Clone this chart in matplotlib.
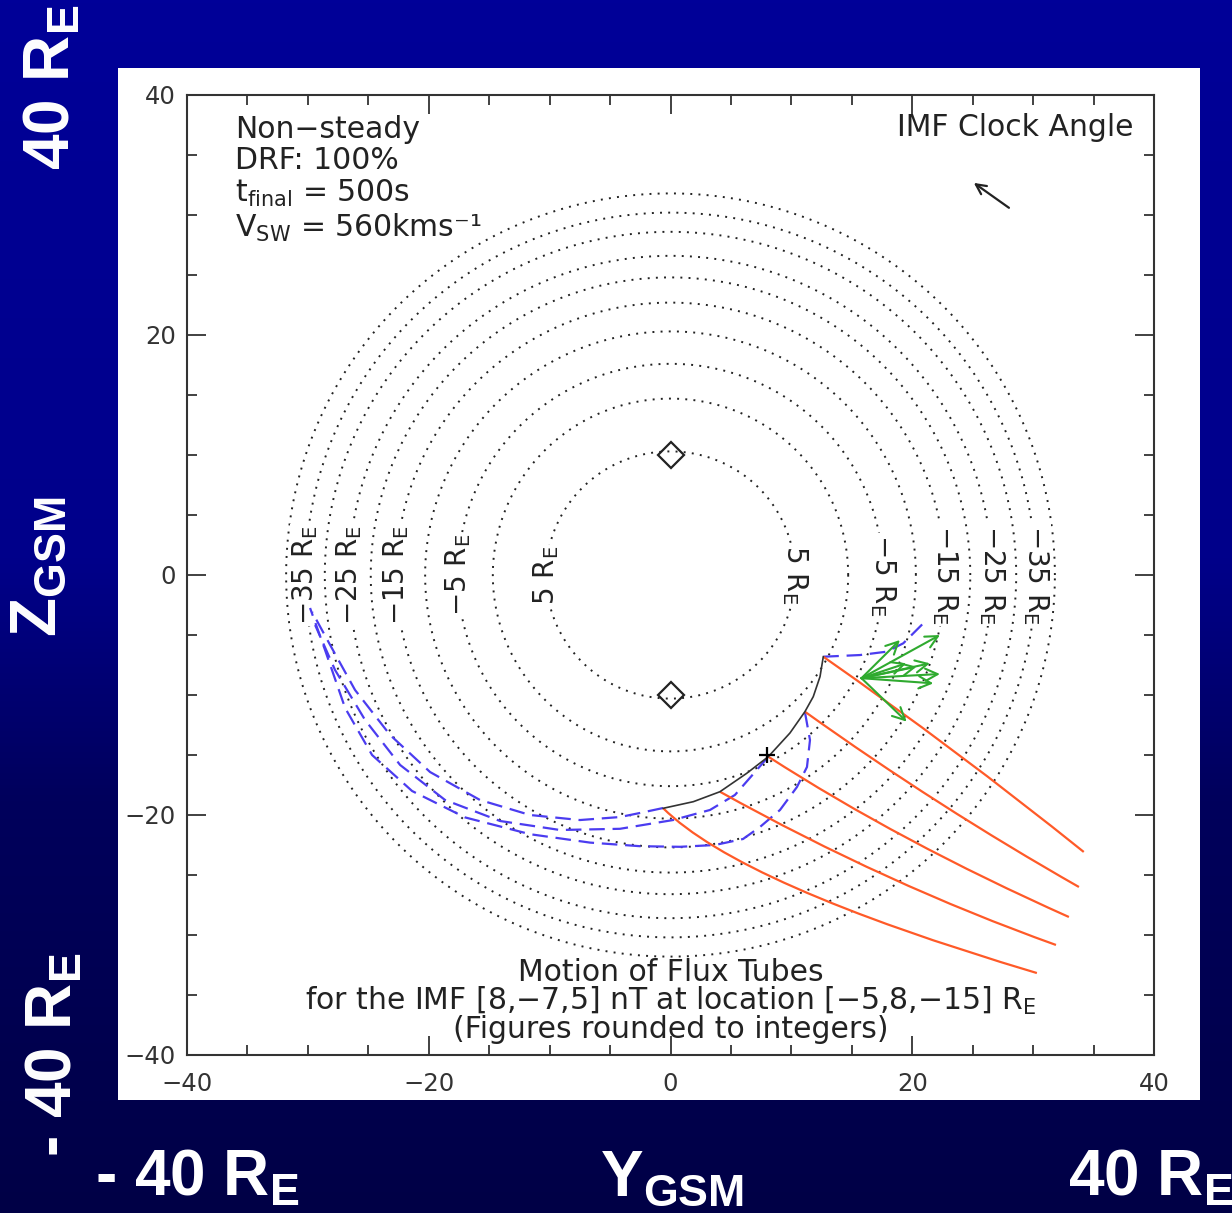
import matplotlib
matplotlib.use("Agg")
import matplotlib.pyplot as plt
import numpy as np
from matplotlib.patches import Rectangle, PathPatch
from matplotlib.path import Path
from matplotlib.ticker import MultipleLocator

# run parameters
imf = [8, -7, 5]            # nT (Bx, By, Bz)
location = [-5, 8, -15]     # R_E (X, Y, Z)
drf = 100
t_final = 500
v_sw = 560

# magnetopause cross sections: X position and radius in the Y-Z plane (R_E)
section_x = [5, 0, -5, -10, -15, -20, -25, -30, -35, -40]
section_r = [10.3, 14.7, 17.6, 20.3, 22.7, 24.8, 26.6, 28.6, 30.2, 31.8]
labelled_x = [5, -5, -15, -25, -35]

# cusp markers
cusp_z = [10, -10]

# reconnection line
xline_y = [12.64, 12.37, 11.81, 11.12, 9.88, 8.09, 6.30, 4.09, 1.89, -0.60]
xline_z = [-6.81, -8.47, -10.14, -11.39, -13.17, -15.14, -16.53, -18.06, -18.89, -19.44]

# flux tubes at t_final (orange): start, bend, end
tube1 = [(12.64, -6.81), (23.6, -14.5), (34.19, -23.08)]
tube2 = [(11.12, -11.39), (22.1, -19.3), (33.79, -26.00)]
tube3 = [(8.09, -15.14), (18.95, -22.2), (32.96, -28.50)]
tube4 = [(4.09, -18.06), (17.9, -25.79), (31.89, -30.83)]
tube5 = [(-0.60, -19.44), (5.77, -25.81), (30.31, -33.17)]

# flux tube footprint paths (blue dashed)
path1_y = [12.64, 15.67, 17.88, 19.26, 20.91]
path1_z = [-6.81, -6.67, -6.39, -5.69, -4.03]
path2_y = [11.12, 11.54, 11.29, 10.46, 9.06, 7.40, 6.00, 3.68, 0.79, -2.52, -6.66,
           -11.62, -17.00, -21.38, -24.69, -26.92, -28.58, -29.82]
path2_z = [-11.42, -13.75, -16.00, -17.67, -19.58, -21.00, -22.00, -22.50, -22.65, -22.60, -22.30,
           -21.60, -20.20, -18.00, -15.00, -11.08, -6.25, -2.75]
path3_y = [8.06, 6.99, 5.33, 3.27, 0.21, -4.18, -9.14, -14.10, -18.65, -22.37, -25.27, -27.75, -29.40]
path3_z = [-15.17, -16.42, -18.33, -19.58, -20.42, -21.15, -21.25, -20.50, -18.75, -15.83, -12.08, -7.92, -4.17]
path4_y = [-0.62, -2.52, -4.18, -7.49, -11.62, -15.76, -19.89, -23.20, -26.10, -28.16, -29.65]
path4_z = [-19.42, -19.83, -20.17, -20.42, -20.00, -18.75, -16.42, -13.33, -9.58, -5.83, -3.08]

# flow vectors (green)
flow_origin = [15.8, -8.6]
flow_tip_y = [18.98, 22.29, 22.29, 21.46, 20.36, 21.74, 19.50, 19.54]
flow_tip_z = [-5.42, -5.00, -8.25, -7.36, -7.64, -9.03, -7.36, -12.22]

# IMF clock angle arrow
clock_tail = [28.0, 30.6]
clock_scale = 0.415

W, H = 1232, 1213
fig = plt.figure(figsize=(W / 100, H / 100), dpi=100)

# slide background
bg = fig.add_axes([0, 0, 1, 1], zorder=-10)
rows = np.linspace(0, 1, 400)
blue = np.interp(rows, [0, 0.46, 0.66, 1.0], [152, 138, 92, 70]) / 255
grad = np.zeros((400, 2, 3))
grad[:, :, 2] = blue[:, None]
bg.imshow(grad, aspect="auto", extent=[0, 1, 0, 1], origin="upper")
bg.set_axis_off()

fig.add_artist(Rectangle((118 / W, 1 - 1100 / H), (1200 - 118) / W, (1100 - 68) / H,
                         transform=fig.transFigure, facecolor="white", edgecolor="none", zorder=-5))

ax = fig.add_axes([187 / W, 1 - 1055 / H, (1154 - 187) / W, (1055 - 95) / H])
ax.set_xlim(-40, 40)
ax.set_ylim(-40, 40)
ax.xaxis.set_major_locator(MultipleLocator(20))
ax.yaxis.set_major_locator(MultipleLocator(20))
ax.xaxis.set_minor_locator(MultipleLocator(5))
ax.yaxis.set_minor_locator(MultipleLocator(5))
ax.tick_params(which="both", direction="in", top=True, right=True, color="#333333",
               labelcolor="#333333", labelsize=17.5)
ax.tick_params(which="major", length=14, width=1.3)
ax.tick_params(which="minor", length=7.5, width=1.3)
ax.tick_params(axis="x", pad=12)
ax.tick_params(axis="y", pad=8)
for s in ax.spines.values():
    s.set_linewidth(1.5)
    s.set_color("#333333")

txt = dict(fontsize=21.5, color="#222222")

# magnetopause sections
theta = np.linspace(0, 2 * np.pi, 900)
for r in section_r:
    ax.plot(r * np.cos(theta), r * np.sin(theta), ls=(0, (1, 3.2)), lw=1.4, color="#222222", zorder=1)
for x in labelled_x:
    r = section_r[section_x.index(x)]
    lab = f"{x} R$_\\mathregular{{E}}$".replace("-", "\u2212")
    box = dict(facecolor="white", edgecolor="none", pad=0.5)
    ax.text(-r, 0, lab, rotation=90, ha="center", va="center", bbox=box, zorder=2, fontsize=20, color="#222222")
    ax.text(r, 0, lab, rotation=-90, ha="center", va="center", bbox=box, zorder=2, fontsize=20, color="#222222")

ax.plot([0] * len(cusp_z), cusp_z, ls="none", marker="D", ms=13, mfc="none", mec="#222222", mew=1.6, zorder=3)

# footprint paths
for py, pz in [(path1_y, path1_z), (path2_y, path2_z), (path3_y, path3_z), (path4_y, path4_z)]:
    ax.plot(py, pz, color="#4b3cf0", lw=1.6, ls=(0, (7, 3.5)), zorder=4)

# flux tubes
for tube in [tube1, tube2, tube3, tube4, tube5]:
    curve = Path(tube, [Path.MOVETO, Path.CURVE3, Path.CURVE3])
    ax.add_patch(PathPatch(curve, facecolor="none", edgecolor="#ff5a28", lw=1.6, zorder=5))

ax.plot(xline_y, xline_z, color="#333333", lw=1.2, zorder=6)
ax.plot(location[1], location[2], marker="+", ms=12, mew=1.6, color="black", zorder=7)

for fy, fz in zip(flow_tip_y, flow_tip_z):
    ax.annotate("", xy=(fy, fz), xytext=flow_origin,
                arrowprops=dict(arrowstyle="->", color="#2faa2f", lw=1.5, mutation_scale=22,
                                shrinkA=0, shrinkB=0), zorder=8)

clock_head = [clock_tail[0] + clock_scale * imf[1], clock_tail[1] + clock_scale * imf[2]]
ax.annotate("", xy=clock_head, xytext=clock_tail,
            arrowprops=dict(arrowstyle="->", color="#222222", lw=1.6, mutation_scale=18,
                            shrinkA=0, shrinkB=0))

# run summary, top left (anchored on the last line's baseline)
summary = "\n".join([
    "Non\u2212steady",
    f"DRF: {drf}%",
    f"t$_\\mathregular{{final}}$ = {t_final}s",
    f"V$_\\mathregular{{SW}}$ = {v_sw}kms\u207b\u00b9",
])
ax.text(-36, 28.17, summary, va="baseline", linespacing=1.11, **txt)
ax.text(38.3, 36.6, "IMF Clock Angle", ha="right", **txt)

imf_s = ",".join(str(v) for v in imf).replace("-", "\u2212")
loc_s = ",".join(str(v) for v in location).replace("-", "\u2212")
caption = "\n".join([
    "Motion of Flux Tubes",
    f"for the IMF [{imf_s}] nT at location [{loc_s}] R$_\\mathregular{{E}}$",
    "(Figures rounded to integers)",
])
ax.text(0, -38.58, caption, ha="center", va="baseline", multialignment="center", linespacing=0.92, **txt)

# slide labels
big = dict(color="white", fontsize=46, fontweight="bold", family="Liberation Sans",
           rotation_mode="anchor", ha="left", va="baseline")
fig.text(95 / W, 1 - 1196 / H, "- 40 R$_\\mathregular{E}$", **big)
fig.text(600 / W, 1 - 1196 / H, "Y$_\\mathregular{GSM}$", **big)
fig.text(1068 / W, 1 - 1196 / H, "40 R$_\\mathregular{E}$", **big)
fig.text(70 / W, 1 - 170 / H, "40 R$_\\mathregular{E}$", rotation=90, **big)
fig.text(56 / W, 1 - 637 / H, "Z$_\\mathregular{GSM}$", rotation=90, **big)
fig.text(72 / W, 1 - 1157 / H, "- 40 R$_\\mathregular{E}$", rotation=90, **big)

fig.savefig("out.png", dpi=100)
